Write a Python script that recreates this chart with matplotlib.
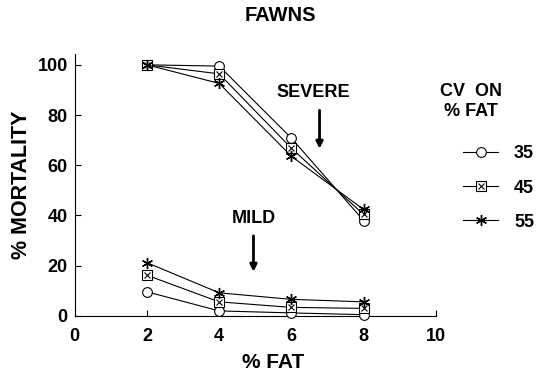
import matplotlib
matplotlib.use("Agg")
import matplotlib.pyplot as plt
from matplotlib.lines import Line2D
from matplotlib.legend_handler import HandlerTuple

plt.rcParams['font.family'] = ['Liberation Sans', 'DejaVu Sans']

fat = [2, 4, 6, 8]
cv_labels = ["35", "45", "55"]
severe = {
    "35": [100, 99.5, 70.8, 38.0],
    "45": [100, 96.4, 66.8, 40.4],
    "55": [100, 92.6, 63.6, 42.4],
}
mild = {
    "35": [9.6, 2.0, 1.2, 0.5],
    "45": [16.2, 5.6, 3.4, 3.0],
    "55": [21.2, 9.2, 6.6, 5.6],
}
xticks = [0, 2, 4, 6, 8, 10]
yticks = [0, 20, 40, 60, 80, 100]

fig = plt.figure(figsize=(5.42, 3.77), dpi=100)
ax = fig.add_axes([0.138, 0.162, 0.666, 0.696])

asterisk = (6, 2, 0)
lw = 0.8

def draw(series):
    ax.plot(fat, series["35"], color='black', lw=lw, marker='o', ms=7,
            mfc='white', mec='black', mew=0.8, clip_on=False, zorder=3)
    ax.plot(fat, series["45"], color='black', lw=lw, marker='s', ms=6.5,
            mfc='white', mec='black', mew=0.8, clip_on=False, zorder=3)
    ax.plot(fat, series["45"], ls='none', marker='x', ms=5, mec='black',
            mew=0.8, clip_on=False, zorder=4)
    ax.plot(fat, series["55"], color='black', lw=lw, marker=asterisk, ms=8,
            mec='black', mew=1.0, clip_on=False, zorder=3)

draw(severe)
draw(mild)

ax.set_xlim(0, 10)
ax.set_ylim(0, 104.5)
ax.set_xticks(xticks)
ax.set_yticks(yticks)
ax.tick_params(direction='in', length=4, width=0.8, labelsize=13)
ax.tick_params(axis='x', pad=9)
ax.tick_params(axis='y', pad=5)
for lab in ax.get_xticklabels() + ax.get_yticklabels():
    lab.set_fontweight('bold')
ax.spines['top'].set_visible(False)
ax.spines['right'].set_visible(False)
for s in ['left', 'bottom']:
    ax.spines[s].set_linewidth(0.8)

ax.set_xlabel('% FAT', fontsize=15, fontweight='bold')
ax.xaxis.set_label_coords(0.55, -0.14)
ax.set_ylabel('% MORTALITY', fontsize=15.5, fontweight='bold')
ax.yaxis.set_label_coords(-0.119, 0.5)
fig.suptitle('FAWNS', x=0.517, y=0.985, fontsize=14.5, fontweight='bold')

# annotations
ax.annotate('', xy=(6.78, 65.5), xytext=(6.78, 83),
            arrowprops=dict(arrowstyle='-|>', color='black', lw=2.0,
                            mutation_scale=10))
ax.text(6.6, 85.5, 'SEVERE', ha='center', va='bottom', fontsize=13,
        fontweight='bold')
ax.annotate('', xy=(4.95, 16.5), xytext=(4.95, 33),
            arrowprops=dict(arrowstyle='-|>', color='black', lw=2.0,
                            mutation_scale=10))
ax.text(4.95, 35.5, 'MILD', ha='center', va='bottom', fontsize=13,
        fontweight='bold')

# legend title
fig.text(0.869, 0.758, 'CV  ON', ha='center', va='center', fontsize=13,
         fontweight='bold')
fig.text(0.869, 0.705, '% FAT', ha='center', va='center', fontsize=13,
         fontweight='bold')

# legend
h35 = Line2D([], [], color='black', lw=lw, marker='o', ms=7, mfc='white',
             mec='black', mew=0.8)
h45a = Line2D([], [], color='black', lw=lw, marker='s', ms=6.5, mfc='white',
              mec='black', mew=0.8)
h45b = Line2D([], [], ls='none', marker='x', ms=5, mec='black', mew=0.8)
h55 = Line2D([], [], color='black', lw=lw, marker=asterisk, ms=8,
             mec='black', mew=1.0)
leg = fig.legend([h35, (h45a, h45b), h55], cv_labels,
                 handler_map={tuple: HandlerTuple(ndivide=1, pad=0)},
                 loc='center left', bbox_to_anchor=(0.855, 0.501),
                 frameon=False, handlelength=1.9, handletextpad=0.9,
                 labelspacing=0.95, borderpad=0.0, borderaxespad=0.0,
                 prop={'size': 13, 'weight': 'bold'})

fig.savefig('out.png', dpi=100)
